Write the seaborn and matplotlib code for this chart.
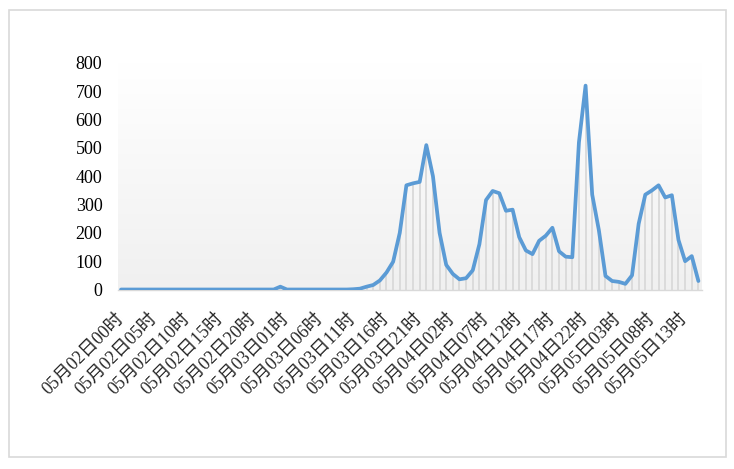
import matplotlib
matplotlib.use('Agg')
import matplotlib.pyplot as plt
from matplotlib.colors import LinearSegmentedColormap
from matplotlib.patches import Rectangle
import seaborn as sns
import numpy as np
import pandas as pd

# hourly counts, 05-02 00h .. 05-05 15h
hours = pd.date_range('2020-05-02 00:00', periods=88, freq='h')
hour_labels = [h.strftime('%m月%d日%H时') for h in hours]
values = (
    [0] * 24 + [10] + [0] * 10
    + [1, 3, 10, 16, 32, 60, 98, 200, 368, 375, 380, 510, 400, 200, 87,
       55, 36, 40, 68, 160, 316, 348, 340, 278, 282, 185, 138, 125, 172,
       190, 218, 135, 116, 114, 520, 720, 335, 210, 48, 30, 27, 20, 50,
       232, 335, 350, 368, 325, 333, 175, 100, 118, 30]
)
y_ticks = [0, 100, 200, 300, 400, 500, 600, 700, 800]
label_step = 5

df = pd.DataFrame({'idx': np.arange(len(values)), 'label': hour_labels, 'value': values})

sns.set_style('white')
plt.rcParams['font.family'] = ['Liberation Serif', 'Noto Sans CJK SC']

fig = plt.figure(figsize=(7.34, 4.69), dpi=100)
ax = fig.add_axes([0.1604, 0.3827, 0.7956, 0.4830])

# plot area gradient, white at top to light grey at the bottom
grad = LinearSegmentedColormap.from_list('bg', ['#ffffff', '#f0f0f0'])
ax.imshow(np.linspace(0, 1, 256).reshape(-1, 1), aspect='auto', cmap=grad,
          extent=(-0.5, len(values) - 0.5, 0, 800), origin='upper', zorder=0)

# drop lines
ax.vlines(df['idx'], 0, df['value'], color='#d9d9d9', linewidth=1.3, zorder=1)

sns.lineplot(data=df, x='idx', y='value', ax=ax, color='#5b9bd5',
             linewidth=2.7, zorder=3, solid_capstyle='round')

ax.set_xlim(-0.5, len(values) - 0.5)
ax.set_ylim(0, 800)
ax.set_yticks(y_ticks)
ax.set_yticklabels([str(v) for v in y_ticks], fontsize=13, color='black')
ax.tick_params(axis='y', length=0, pad=11)

major = df['idx'][::label_step]
ax.set_xticks(major)
ax.set_xticklabels(df['label'][::label_step], rotation=45, ha='right',
                   va='center', rotation_mode='anchor', fontsize=13)
ax.tick_params(axis='x', length=0, pad=19)
ax.set_xticks(np.arange(len(values) + 1) - 0.5, minor=True)
ax.tick_params(axis='x', which='minor', length=5.5, width=1.4, color='#d4d4d4')

ax.set_xlabel('')
ax.set_ylabel('')
for side in ['top', 'right', 'left']:
    ax.spines[side].set_visible(False)
ax.spines['bottom'].set_color('#d9d9d9')
ax.spines['bottom'].set_linewidth(1.0)

# chart border
fig.patches.append(Rectangle((9 / 734, 12 / 469), 717 / 734, 447 / 469,
                             transform=fig.transFigure, fill=False,
                             edgecolor='#d9d9d9', linewidth=1.2))

fig.savefig('out.png', dpi=100)
plt.close(fig)
